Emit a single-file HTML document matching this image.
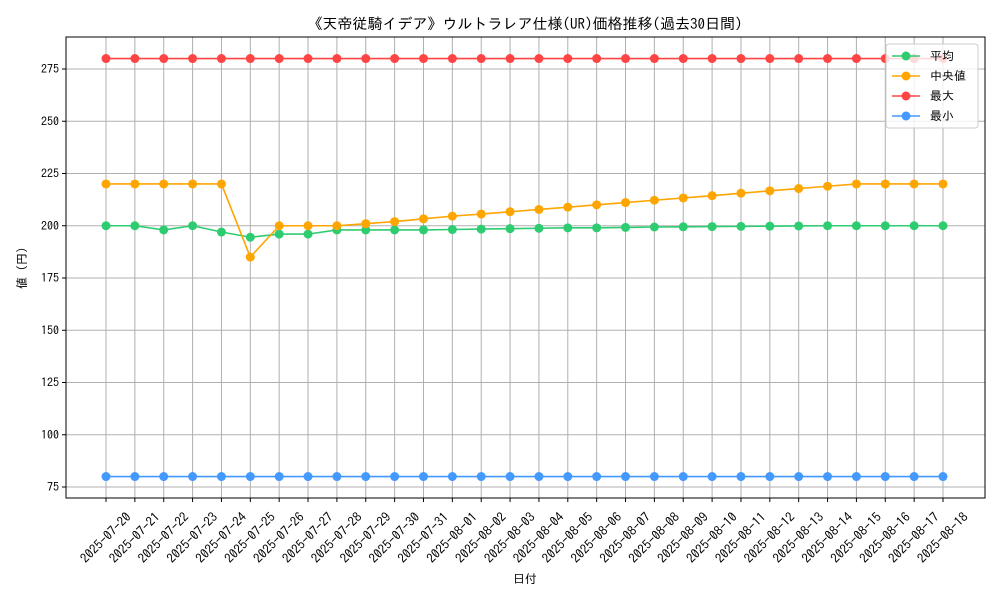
<!DOCTYPE html>
<html><head><meta charset="utf-8"><style>
body{margin:0;background:#fff;}
text{font-family:"IPAGothic","Noto Sans CJK JP",sans-serif;}
</style></head><body>
<svg id="chart" width="1000" height="600" xmlns="http://www.w3.org/2000/svg">
<text x="525" y="29" text-anchor="middle" font-size="15" fill="#000">《天帝従騎イデア》ウルトラレア仕様(UR)価格推移(過去30日間)</text>
<g id="grid"></g><g id="axes"></g><g id="series"></g>
<text x="525" y="583" text-anchor="middle" font-size="12">日付</text>
<text x="0" y="0" transform="translate(26,268) rotate(-90)" text-anchor="middle" font-size="12">値 (円)</text>
<g id="legend"></g>
</svg>
<script>
const dates=["2025-07-20","2025-07-21","2025-07-22","2025-07-23","2025-07-24","2025-07-25","2025-07-26","2025-07-27","2025-07-28","2025-07-29","2025-07-30","2025-07-31","2025-08-01","2025-08-02","2025-08-03","2025-08-04","2025-08-05","2025-08-06","2025-08-07","2025-08-08","2025-08-09","2025-08-10","2025-08-11","2025-08-12","2025-08-13","2025-08-14","2025-08-15","2025-08-16","2025-08-17","2025-08-18"];
const meanVals=[200,200,198,200,197,194.5,196,196,198,198,198,198,198.2,198.4,198.6,198.8,199,199,199.2,199.4,199.5,199.6,199.7,199.8,199.9,200,200,200,200,200];
const medianVals=[220,220,220,220,220,185,200,200,200,201,202,203.3,204.6,205.6,206.7,207.8,208.9,210,211.1,212.2,213.3,214.4,215.6,216.7,217.8,218.9,220,220,220,220];
const maxVals=Array(30).fill(280);
const minVals=Array(30).fill(80);
const yTicks=[75,100,125,150,175,200,225,250,275];
const seriesNames=["平均","中央値","最大","最小"];
const colors=["#2ecc71","#ffa500","#ff4444","#4499ff"];
const NS="http://www.w3.org/2000/svg";
const L=66,R=985,T=37,B=498;
const xs=i=>106+i*(943-106)/(dates.length-1);
const ys=v=>487-(v-75)*(487-69)/200;
function mk(tag,attrs,parent){const e=document.createElementNS(NS,tag);for(const k in attrs)e.setAttribute(k,attrs[k]);parent.appendChild(e);return e;}
const grid=document.getElementById('grid'),axes=document.getElementById('axes'),ser=document.getElementById('series'),leg=document.getElementById('legend');
dates.forEach((d,i)=>{
 const g=mk('line',{x1:xs(i),x2:xs(i),y1:T,y2:B,stroke:'#b0b0b0','stroke-width':1},grid);
 
 
 const tk=mk('line',{x1:xs(i),x2:xs(i),y1:B,y2:B+4,stroke:'#000'},axes);
 
 
 const t=mk('text',{x:0,y:4,'font-size':13,'text-anchor':'middle',transform:`translate(${xs(i)},${538}) rotate(-45)`},axes);
 t.textContent=d;
 
 
});
yTicks.forEach(v=>{
 const g=mk('line',{x1:L,x2:R,y1:ys(v),y2:ys(v),stroke:'#b0b0b0'},grid);
 
 
 const tk=mk('line',{x1:L-4,x2:L,y1:ys(v),y2:ys(v),stroke:'#000'},axes);
 
 
 const t=mk('text',{x:L-7,y:ys(v)+4,'font-size':12,'text-anchor':'end'},axes);
 t.textContent=v;
 
 
});
const fr=mk('rect',{x:L,y:T,width:R-L,height:B-T,fill:'none',stroke:'#000'},axes);


[meanVals,medianVals,maxVals,minVals].forEach((vals,s)=>{
 const g=mk('g',{},ser);
 
 
 const p=mk('polyline',{points:vals.map((v,i)=>xs(i)+','+ys(v)).join(' '),fill:'none',stroke:colors[s],'stroke-width':1.6},g);
 
 
 vals.forEach((v,i)=>{
  const c=mk('circle',{cx:xs(i),cy:ys(v),r:4.5,fill:colors[s]},g);
  
  
 });
});
const lb=mk('rect',{x:886,y:44,width:92,height:84,fill:'#fff','fill-opacity':0.8,stroke:'#ccc',rx:3},leg);


seriesNames.forEach((n,s)=>{
 const y=56+s*20;
 const g=mk('g',{},leg);
 
 
 mk('line',{x1:892,x2:920,y1:y,y2:y,stroke:colors[s],'stroke-width':1.6},g);
 mk('circle',{cx:906,cy:y,r:4.5,fill:colors[s]},g);
 const t=mk('text',{x:930,y:y+4,'font-size':12},g);
 t.textContent=n;
});
</script>
</body></html>
